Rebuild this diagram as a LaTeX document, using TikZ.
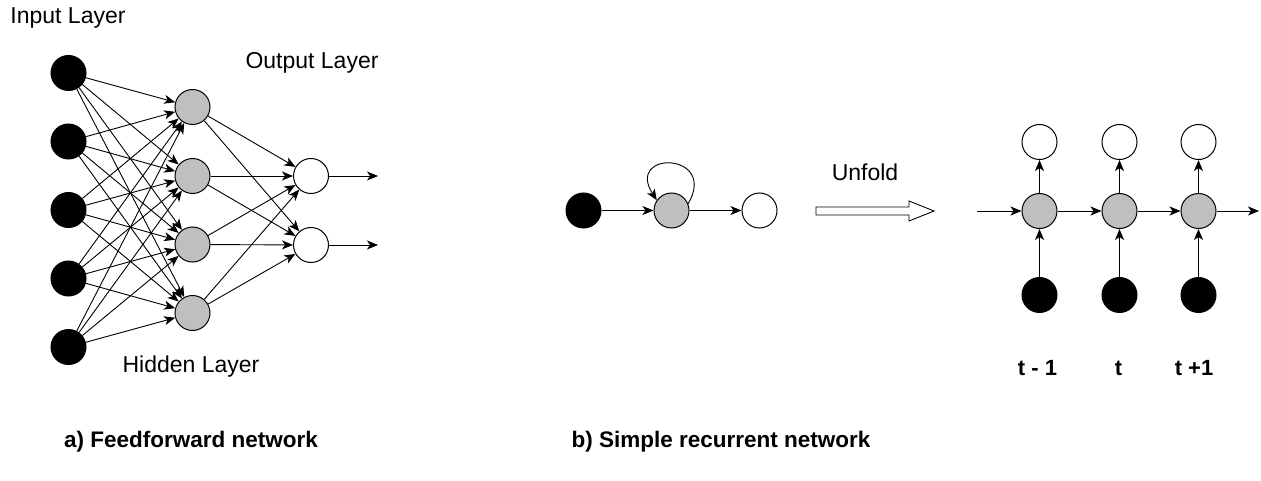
\documentclass[tikz,border=0pt]{standalone}
\usepackage{fontspec}
\setmainfont{Liberation Sans}
\usetikzlibrary{arrows.meta}
\begin{document}
\begin{tikzpicture}[x=1pt,y=-1pt,
  neuron/.style={circle,draw,line width=1pt,minimum size=35pt,inner sep=0pt},
  inp/.style={neuron,fill=black},
  hid/.style={neuron,fill=gray!50},
  outn/.style={neuron,fill=white},
  edge/.style={-{Stealth[length=11pt,width=9pt,inset=3pt]},line width=0.9pt},
  lbl/.style={font=\fontsize{23}{27}\selectfont,inner sep=0pt},
  blbl/.style={font=\fontsize{22.5}{27}\selectfont\bfseries,inner sep=0pt},
  tlbl/.style={font=\fontsize{22}{26}\selectfont\bfseries,inner sep=0pt}]
\useasboundingbox (0,0) rectangle (1261,481);
% feedforward
\foreach \i/\y in {1/73,2/141.5,3/210,4/278.5,5/347} \node[inp] (i\i) at (68.5,\y) {};
\foreach \j/\y in {1/107,2/176,3/244.5,4/313} \node[hid] (h\j) at (192.5,\y) {};
\foreach \k/\y in {1/176,2/245} \node[outn] (o\k) at (311,\y) {};
\foreach \i in {1,...,5} \foreach \j in {1,...,4} \draw[edge] (i\i) -- (h\j);
\foreach \j in {1,...,4} \foreach \k in {1,2} \draw[edge] (h\j) -- (o\k);
\coordinate (oe1) at (378,176);
\coordinate (oe2) at (378,245);
\draw[edge] (o1) -- (oe1);
\draw[edge] (o2) -- (oe2);
\node[lbl] (lin) at (68,18) {Input Layer};
\node[lbl] (lout) at (312,63) {Output Layer};
\node[lbl] (lhid) at (191,367) {Hidden Layer};
\node[blbl] (capa) at (191,442) {a) Feedforward network};
% simple recurrent
\node[inp] (x) at (583.5,210.5) {};
\node[hid] (g) at (671.5,210.5) {};
\node[outn] (y) at (759.5,210.5) {};
\draw[edge] (x) -- (g);
\draw[edge] (g) -- (y);
\draw[edge] (g.22) .. controls +(30,-52) and +(-32,-50) .. (g.145);
\node[lbl] (unf) at (865,172) {Unfold};
\draw[line width=0.9pt,fill=white] (816,207) -- (909,207) -- (909,201) -- (934,211) -- (909,221) -- (909,215) -- (816,215) -- cycle;
\node[blbl] (capb) at (721,442) {b) Simple recurrent network};
% unrolled
\foreach \n/\xx in {1/1039.5,2/1119.5,3/1198.5}{
  \node[outn] (u\n) at (\xx,142) {};
  \node[hid] (s\n) at (\xx,211) {};
  \node[inp] (v\n) at (\xx,295) {};
  \draw[edge] (s\n) -- (u\n);
  \draw[edge] (v\n) -- (s\n);
}
\coordinate (rin) at (977,211);
\coordinate (rout) at (1259,211);
\draw[edge] (rin) -- (s1);
\draw[edge] (s1) -- (s2);
\draw[edge] (s2) -- (s3);
\draw[edge] (s3) -- (rout);
\node[tlbl] (t1) at (1037.5,368) {t - 1};
\node[tlbl] (t2) at (1118.5,368) {t};
\node[tlbl] (t3) at (1194,368) {t +1};
\end{tikzpicture}
\end{document}
